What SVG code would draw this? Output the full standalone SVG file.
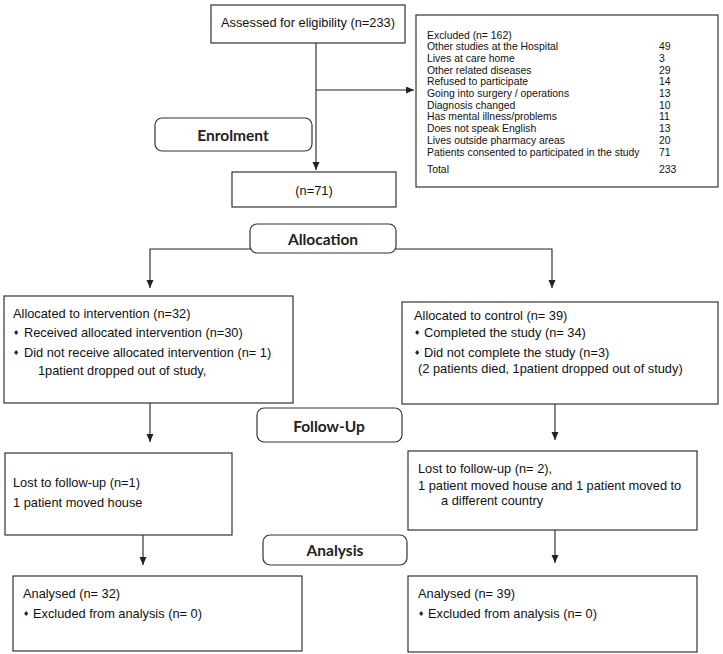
<svg xmlns="http://www.w3.org/2000/svg" width="723" height="654" viewBox="0 0 723 654">
<defs>
<marker id="ah" markerUnits="userSpaceOnUse" markerWidth="9" markerHeight="8" refX="8" refY="3.5" orient="auto">
<path d="M0,0 L8,3.5 L0,7 z" fill="#222"/>
</marker>
<style>
.box{fill:#fff;stroke:#333;stroke-width:1.2}
.stage{fill:#fff;stroke:#333;stroke-width:1.2}
.t{font-family:"Liberation Sans",Arial,sans-serif;font-size:12.8px;fill:#111}
.s{font-family:"Liberation Sans",Arial,sans-serif;font-size:10.4px;fill:#111}
.st{font-family:Lato,"Open Sans",sans-serif;font-weight:700;font-size:15.5px;fill:#222;text-anchor:middle}
.b{font-family:"DejaVu Sans",sans-serif;font-size:7px;fill:#222}
.c{fill:none;stroke:#222;stroke-width:1.1}
</style>
</defs>
<rect width="723" height="654" fill="#fff"/>
<g id="connectors">
<path class="c" d="M316,43 V170" marker-end="url(#ah)"/>
<path class="c" d="M316,90 H414" marker-end="url(#ah)"/>
<path class="c" d="M250,249 H150 V288" marker-end="url(#ah)"/>
<path class="c" d="M396,249 H552 V288" marker-end="url(#ah)"/>
<path class="c" d="M150,395 V442" marker-end="url(#ah)"/>
<path class="c" d="M555,397 V440" marker-end="url(#ah)"/>
<path class="c" d="M143,522 V565" marker-end="url(#ah)"/>
<path class="c" d="M555,520 V563" marker-end="url(#ah)"/>
</g>
<g id="assessed">
<rect class="box" x="211" y="5" width="194" height="38"/>
<text class="t" x="308" y="26.5" text-anchor="middle" font-size="12.6">Assessed for eligibility (n=233)</text>
</g>
<g id="excluded">
<rect class="box" x="416" y="15" width="302" height="172"/>
<text class="s" x="427" y="38.7">Excluded (n= 162)</text>
<text class="s" x="427" y="50.2">Other studies at the Hospital</text><text class="s" x="659" y="50.2">49</text>
<text class="s" x="427" y="61.9">Lives at care home</text><text class="s" x="659" y="61.9">3</text>
<text class="s" x="427" y="73.6">Other related diseases</text><text class="s" x="659" y="73.6">29</text>
<text class="s" x="427" y="85.3">Refused to participate</text><text class="s" x="659" y="85.3">14</text>
<text class="s" x="427" y="97">Going into surgery / operations</text><text class="s" x="659" y="97">13</text>
<text class="s" x="427" y="108.7">Diagnosis changed</text><text class="s" x="659" y="108.7">10</text>
<text class="s" x="427" y="120.4">Has mental illness/problems</text><text class="s" x="659" y="120.4">11</text>
<text class="s" x="427" y="132.1">Does not speak English</text><text class="s" x="659" y="132.1">13</text>
<text class="s" x="427" y="143.8">Lives outside pharmacy areas</text><text class="s" x="659" y="143.8">20</text>
<text class="s" x="427" y="155.5">Patients consented to participated in the study</text><text class="s" x="659" y="155.5">71</text>
<text class="s" x="427" y="172.7">Total</text><text class="s" x="659" y="172.7">233</text>
</g>
<g id="enrolment">
<rect class="stage" x="155" y="118" width="157" height="33" rx="7"/>
<text class="st" x="233" y="140.5">Enrolment</text>
</g>
<g id="n71">
<rect class="box" x="232" y="172" width="164" height="35"/>
<text class="t" x="314" y="194.5" text-anchor="middle">(n=71)</text>
</g>
<g id="allocation">
<rect class="stage" x="250" y="224" width="146" height="29" rx="7"/>
<text class="st" x="323" y="245">Allocation</text>
</g>
<g id="intervention">
<rect class="box" x="4" y="296" width="289" height="107"/>
<text class="t" x="13" y="317.5">Allocated to intervention (n=32)</text>
<text class="b" x="13" y="335">♦</text>
<text class="t" x="24" y="336.5">Received allocated intervention (n=30)</text>
<text class="b" x="13" y="355">♦</text>
<text class="t" x="24" y="356.5">Did not receive allocated intervention (n= 1)</text>
<text class="t" x="38" y="374.5">1patient dropped out of study,</text>
</g>
<g id="control">
<rect class="box" x="402" y="302" width="316" height="102"/>
<text class="t" x="414" y="319.5">Allocated to control (n= 39)</text>
<text class="b" x="414" y="335">♦</text>
<text class="t" x="424" y="336.5">Completed the study (n= 34)</text>
<text class="b" x="414" y="355">♦</text>
<text class="t" x="424" y="356.5">Did not complete the study (n=3)</text>
<text class="t" x="418" y="372.5">(2 patients died, 1patient dropped out of study)</text>
</g>
<g id="followup">
<rect class="stage" x="257" y="408" width="145" height="34" rx="7"/>
<text class="st" x="329" y="431.5">Follow-Up</text>
</g>
<g id="lost-left">
<rect class="box" x="5" y="453" width="227" height="82"/>
<text class="t" x="13" y="486.5">Lost to follow-up (n=1)</text>
<text class="t" x="13" y="506.5">1 patient moved house</text>
</g>
<g id="lost-right">
<rect class="box" x="408" y="451" width="289" height="79"/>
<text class="t" x="418" y="472.5">Lost to follow-up (n= 2),</text>
<text class="t" x="418" y="489.5">1 patient moved house and 1 patient moved to</text>
<text class="t" x="441" y="504.5">a different country</text>
</g>
<g id="analysis">
<rect class="stage" x="263" y="535" width="144" height="30" rx="7"/>
<text class="st" x="335" y="555.5">Analysis</text>
</g>
<g id="analysed-left">
<rect class="box" x="13" y="576" width="289" height="75"/>
<text class="t" x="23" y="597.5">Analysed (n= 32)</text>
<text class="b" x="23" y="616">♦</text>
<text class="t" x="33" y="617.5">Excluded from analysis (n= 0)</text>
</g>
<g id="analysed-right">
<rect class="box" x="408" y="576" width="289" height="76"/>
<text class="t" x="418" y="597.5">Analysed (n= 39)</text>
<text class="b" x="418" y="616">♦</text>
<text class="t" x="428" y="617.5">Excluded from analysis (n= 0)</text>
</g>
</svg>
